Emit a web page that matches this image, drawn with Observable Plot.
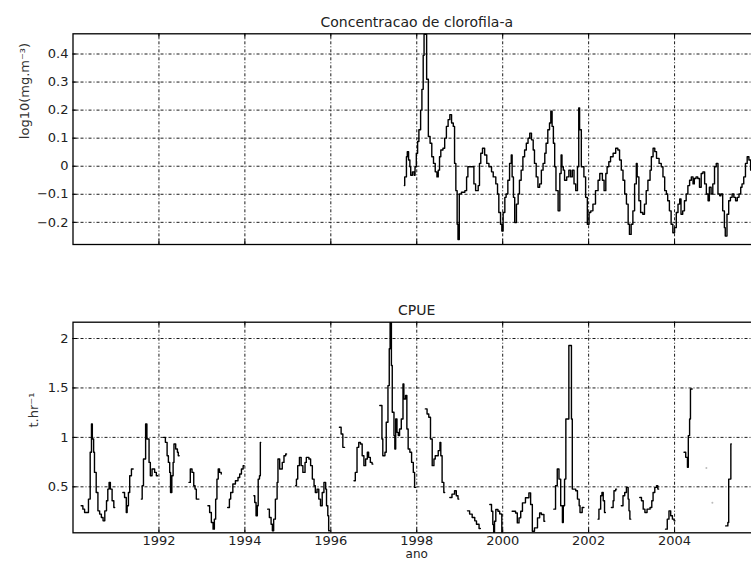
<!DOCTYPE html>
<html><head><meta charset="utf-8">
<script src="https://cdn.jsdelivr.net/npm/d3@7"></script>
<script src="https://cdn.jsdelivr.net/npm/@observablehq/plot@0.6"></script>
<style>
html,body{margin:0;padding:0;background:#fff;overflow:hidden;}
#wrap{position:relative;width:751px;height:565px;overflow:hidden;background:#fff;}
#wrap svg{position:absolute;left:0;overflow:hidden;}
</style></head><body><div id="wrap"></div>
<script>
// ---------- data ----------
const xTicks = [1992, 1994, 1996, 1998, 2000, 2002, 2004];
const chlTicks = [-0.2, -0.1, 0, 0.1, 0.2, 0.3, 0.4];
const cpueTicks = [0.5, 1, 1.5, 2];

const chlTitle = "Concentracao de clorofila-a";
const chlLabel = "log10(mg.m\u207B\u00B3)";
const cpueTitle = "CPUE";
const cpueLabel = "t.hr\u207B\u00B9";
const xLabel = "ano";

const chlYear = [1997.71,1997.72,1997.76,1997.78,1997.81,1997.84,1997.86,1997.90,1997.94,1997.96,1997.99,1998.02,1998.05,1998.09,1998.12,1998.15,1998.17,1998.21,1998.23,1998.27,1998.31,1998.35,1998.39,1998.43,1998.47,1998.50,1998.53,1998.56,1998.61,1998.65,1998.69,1998.73,1998.77,1998.81,1998.85,1998.88,1998.91,1998.94,1998.96,1998.99,1999.04,1999.12,1999.16,1999.19,1999.30,1999.33,1999.37,1999.43,1999.46,1999.49,1999.53,1999.58,1999.63,1999.68,1999.74,1999.78,1999.84,1999.88,1999.91,1999.95,1999.98,2000.01,2000.05,2000.08,2000.12,2000.16,2000.20,2000.22,2000.25,2000.28,2000.32,2000.36,2000.39,2000.43,2000.47,2000.51,2000.55,2000.59,2000.63,2000.67,2000.71,2000.74,2000.78,2000.82,2000.86,2000.90,2000.94,2000.98,2001.01,2001.05,2001.09,2001.12,2001.15,2001.18,2001.21,2001.24,2001.29,2001.33,2001.36,2001.38,2001.41,2001.44,2001.49,2001.54,2001.58,2001.62,2001.66,2001.70,2001.74,2001.77,2001.79,2001.83,2001.89,2001.93,2001.97,2002.01,2002.05,2002.10,2002.16,2002.22,2002.26,2002.32,2002.36,2002.40,2002.43,2002.47,2002.51,2002.57,2002.63,2002.68,2002.72,2002.76,2002.80,2002.84,2002.88,2002.92,2002.95,2002.99,2003.03,2003.07,2003.11,2003.13,2003.17,2003.21,2003.26,2003.30,2003.34,2003.38,2003.43,2003.46,2003.50,2003.54,2003.58,2003.64,2003.69,2003.73,2003.77,2003.81,2003.84,2003.88,2003.92,2003.96,2004.00,2004.04,2004.08,2004.12,2004.15,2004.19,2004.23,2004.27,2004.31,2004.35,2004.39,2004.43,2004.46,2004.50,2004.54,2004.58,2004.62,2004.66,2004.70,2004.74,2004.78,2004.81,2004.85,2004.89,2004.93,2004.97,2005.01,2005.05,2005.08,2005.12,2005.16,2005.18,2005.22,2005.26,2005.30,2005.34,2005.38,2005.42,2005.46,2005.50,2005.54,2005.57,2005.61,2005.65,2005.69,2005.73,2005.77,2005.81,2005.85];
const chlValue = [-0.069,-0.038,0.034,0.052,0.022,-0.002,-0.032,-0.020,-0.032,-0.002,0.046,0.088,0.130,0.200,0.274,0.395,0.470,0.470,0.310,0.106,0.082,0.034,0.010,-0.020,-0.038,-0.014,0.034,0.058,0.064,0.100,0.142,0.166,0.184,0.154,0.142,0.010,-0.087,-0.207,-0.261,-0.099,-0.093,-0.087,-0.038,-0.002,-0.002,-0.063,-0.087,-0.069,0.010,0.046,0.064,0.040,0.010,-0.002,-0.020,-0.038,-0.063,-0.099,-0.165,-0.207,-0.231,-0.165,-0.111,-0.099,-0.050,0.010,0.040,-0.038,-0.111,-0.201,-0.135,-0.099,-0.050,-0.014,0.034,0.058,0.082,0.100,0.118,0.094,0.058,0.010,-0.038,-0.075,-0.063,-0.014,0.010,0.046,0.082,0.130,0.154,0.196,0.142,0.082,-0.002,-0.087,-0.159,-0.026,0.040,-0.002,-0.014,-0.050,-0.038,-0.014,-0.038,-0.014,-0.063,-0.087,-0.002,0.208,0.130,-0.002,-0.038,-0.111,-0.207,-0.165,-0.159,-0.135,-0.087,-0.050,-0.026,-0.050,-0.087,-0.026,-0.002,0.016,0.034,0.046,0.064,0.058,0.022,-0.014,-0.050,-0.099,-0.135,-0.207,-0.243,-0.207,-0.159,-0.063,0.010,-0.038,-0.123,-0.165,-0.171,-0.135,-0.087,-0.050,-0.014,0.034,0.064,0.052,0.028,0.010,-0.002,-0.038,-0.087,-0.099,-0.123,-0.159,-0.207,-0.237,-0.219,-0.165,-0.135,-0.117,-0.171,-0.159,-0.123,-0.099,-0.069,-0.050,-0.038,-0.063,-0.044,-0.038,-0.044,-0.075,-0.026,-0.020,-0.063,-0.099,-0.123,-0.075,-0.099,-0.063,-0.002,0.010,-0.099,-0.105,-0.099,-0.159,-0.219,-0.249,-0.171,-0.123,-0.111,-0.099,-0.111,-0.123,-0.111,-0.099,-0.075,-0.063,-0.038,0.010,0.034,0.022,-0.014,-0.026,-0.030];

// CPUE: NaN marks a gap in the record
const cpueYear = [
1990.19,1990.23,1990.27,1990.36,1990.40,1990.43,1990.45,1990.48,1990.50,1990.54,1990.58,1990.62,1990.66,1990.70,1990.74,1990.78,1990.81,1990.84,1990.87,1990.91,1990.95,1990.97,1990.98,
1991.16,1991.20,1991.24,1991.26,1991.29,1991.32,1991.36,1991.40,1991.41,
1991.59,1991.61,1991.64,1991.69,1991.72,1991.77,1991.80,1991.84,1991.90,1991.94,1991.97,1991.98,
1992.11,1992.15,1992.19,1992.22,1992.25,1992.27,1992.30,1992.33,1992.35,1992.39,1992.43,1992.45,1992.47,1992.48,
1992.70,1992.73,1992.77,1992.81,1992.84,1992.87,1992.93,1992.94,
1993.14,1993.18,1993.22,1993.26,1993.29,1993.32,1993.35,1993.38,1993.41,1993.45,1993.46,
1993.60,1993.64,1993.67,1993.72,1993.78,1993.84,1993.88,1993.92,1993.96,1993.98,1993.99,
1994.21,1994.23,1994.26,1994.29,1994.31,1994.34,1994.36,1994.37,1994.38,
1994.53,1994.57,1994.61,1994.64,1994.67,1994.71,1994.75,1994.77,1994.81,1994.85,1994.87,1994.91,1994.95,1994.97,1994.98,
1995.18,1995.20,1995.23,1995.27,1995.31,1995.35,1995.40,1995.43,1995.49,1995.53,1995.57,1995.61,1995.64,1995.68,1995.72,1995.76,1995.80,1995.84,1995.88,1995.90,1995.93,1995.95,1995.97,1995.98,
1996.20,1996.24,1996.28,1996.32,1996.33,
1996.54,1996.57,1996.61,1996.65,1996.69,1996.73,1996.77,1996.81,1996.85,1996.88,1996.92,1996.96,1996.98,1996.99,
1997.14,1997.19,1997.21,1997.26,1997.29,1997.33,1997.36,1997.38,1997.41,1997.43,1997.47,1997.49,1997.51,1997.54,1997.57,1997.60,1997.64,1997.68,1997.70,1997.74,1997.77,1997.80,1997.84,1997.88,1997.92,1997.95,1997.97,1997.98,
1998.20,1998.24,1998.28,1998.32,1998.36,1998.40,1998.43,1998.50,1998.54,1998.56,1998.59,1998.63,1998.65,1998.66,
1998.77,1998.82,1998.88,1998.92,1998.96,1998.98,1998.99,
1999.18,1999.23,1999.29,1999.35,1999.39,1999.45,1999.48,1999.49,
1999.70,1999.74,1999.77,1999.79,1999.81,1999.84,1999.89,1999.93,1999.97,1999.98,1999.99,2000.00,
2000.22,2000.30,2000.34,2000.38,2000.42,2000.46,2000.53,2000.61,2000.65,2000.69,2000.74,2000.81,2000.86,2000.90,2000.96,2000.98,2000.99,
2001.19,2001.23,2001.27,2001.31,2001.35,2001.39,2001.41,2001.44,2001.47,2001.52,2001.54,2001.58,2001.60,2001.62,2001.70,2001.74,2001.78,2001.80,2001.85,2001.89,2001.90,
2002.22,2002.24,2002.28,2002.31,2002.34,2002.37,2002.39,2002.40,
2002.53,2002.57,2002.59,2002.63,2002.65,2002.66,
2002.76,2002.80,2002.84,2002.88,2002.92,2002.94,2002.96,2002.98,2002.99,
2003.19,2003.23,2003.27,2003.31,2003.36,2003.43,2003.47,2003.50,2003.54,2003.58,2003.61,2003.63,2003.64,
2003.79,2003.83,2003.87,2003.91,2003.95,2003.99,2004.01,2004.02,
2004.22,2004.26,2004.30,2004.32,2004.35,2004.37,2004.41,2004.42,
2005.19,2005.24,2005.26,2005.29,2005.31,2005.32];
const cpueValue = [
0.308,0.274,0.240,0.376,0.849,1.136,0.984,0.849,0.646,0.443,0.257,0.224,0.190,0.156,0.257,0.359,0.477,0.545,0.477,0.359,0.291,0.291,NaN,
0.443,0.392,0.240,0.308,0.443,0.612,0.680,0.680,NaN,
0.376,0.511,0.781,1.136,0.984,0.747,0.612,0.680,0.646,0.612,0.612,NaN,
1.000,0.950,0.815,0.747,0.646,0.443,0.612,0.747,0.933,0.882,0.849,0.815,0.815,NaN,
0.545,0.680,0.646,0.511,0.477,0.376,0.376,NaN,
0.308,0.240,0.139,0.072,0.173,0.376,0.578,0.680,0.646,0.630,NaN,
0.291,0.376,0.443,0.528,0.561,0.595,0.629,0.680,0.714,0.714,NaN,
0.409,0.342,0.207,0.308,0.578,0.612,0.950,0.950,NaN,
0.274,0.190,0.122,0.055,0.173,0.376,0.545,0.781,0.680,0.680,0.747,0.815,0.832,0.832,NaN,
0.511,0.578,0.714,0.798,0.714,0.646,0.747,0.798,0.781,0.714,0.578,0.511,0.443,0.477,0.376,0.308,0.443,0.545,0.477,0.308,0.207,0.055,0.055,NaN,
1.102,1.034,0.899,0.899,NaN,
0.561,0.646,0.899,0.950,0.933,0.815,0.714,0.781,0.849,0.798,0.747,0.730,0.730,NaN,
1.322,0.984,0.815,0.849,1.153,1.524,1.896,2.160,1.727,1.254,1.018,0.882,1.186,1.051,1.018,1.085,1.186,1.541,1.389,1.423,1.085,0.882,0.849,0.747,0.646,0.494,0.494,NaN,
1.288,1.237,1.203,0.984,0.714,0.781,0.815,0.866,0.950,0.815,0.545,0.443,0.443,NaN,
0.392,0.426,0.460,0.409,0.376,0.376,NaN,
0.257,0.224,0.190,0.156,0.122,0.078,0.078,NaN,
0.321,0.253,0.118,0.040,0.152,0.270,0.253,0.226,0.220,0.040,0.040,NaN,
0.253,0.236,0.135,0.186,0.253,0.338,0.389,0.439,0.321,0.051,0.085,0.186,0.236,0.220,0.152,0.152,NaN,
0.274,0.511,0.680,0.578,0.308,0.139,0.308,0.578,1.186,1.186,1.930,1.930,1.186,0.477,0.460,0.376,0.308,0.240,0.291,0.291,NaN,
0.173,0.274,0.409,0.443,0.359,0.240,0.240,NaN,
0.291,0.359,0.460,0.477,0.477,NaN,
0.308,0.409,0.443,0.494,0.376,0.257,0.173,0.173,NaN,
0.392,0.359,0.274,0.240,0.274,0.291,0.359,0.443,0.494,0.511,0.477,0.477,NaN,
0.072,0.173,0.257,0.207,0.173,0.156,0.156,NaN,
0.849,0.798,0.697,1.018,1.186,1.490,1.490,NaN,
0.105,0.139,0.578,0.578,0.933,0.933];

const strayYear = [2004.74, 2004.88];
const strayValue = [0.69, 0.34];

// ---------- layout ----------
const W = 751;
const ML = 72.5, MR = -9;       // plot area runs past the right edge (clipped like the original)
const FW = W - ML - MR;
const xDomain = [1990, 2006];
const font = "'DejaVu Sans', sans-serif";
const grid = {stroke: "black", strokeOpacity: 1, strokeWidth: 0.9, strokeDasharray: "3,2,1,2"};
const fmt = d => d < 0 ? "\u2212" + Math.abs(d) : String(d);

function panel({height, marginTop, marginBottom, yDomain, yTicks, title, ylabel, ylabelDx, data, stray, showX}) {
  const FH = height - marginTop - marginBottom;
  const marks = [
    Plot.ruleX(xTicks, {x: d => d, ...grid}),
    Plot.ruleY(yTicks, {y: d => d, ...grid}),
    Plot.tickX(xTicks, {x: d => d, insetTop: FH - 5, stroke: "black"}),
    Plot.tickX(xTicks, {x: d => d, insetBottom: FH - 5, stroke: "black"}),
    Plot.tickY(yTicks, {y: d => d, insetRight: FW - 5, stroke: "black"}),
    Plot.line(data, {x: "year", y: "value", curve: "step-after", stroke: "black", strokeWidth: 1.4}),
    Plot.frame({stroke: "black", strokeWidth: 1.3}),
    Plot.axisY(yTicks, {tickSize: 0, tickPadding: 4.5, tickFormat: fmt, fontSize: 13, fill: "#222", label: null}),
    Plot.text([title], {frameAnchor: "top", dy: -17, fontSize: 14, fill: "#222"}),
    Plot.text([ylabel], {frameAnchor: "left", dx: ylabelDx, rotate: -90, fontSize: 13, fill: "#333"})
  ];
  if (stray) marks.push(Plot.dot(stray, {x: "year", y: "value", r: 1, fill: "#bbb", stroke: null}));
  if (showX) {
    marks.push(Plot.axisX(xTicks, {anchor: "bottom", tickSize: 0, tickPadding: 3, tickFormat: d => String(d), fontSize: 13, fill: "#222", label: null}));
    marks.push(Plot.text([xLabel], {frameAnchor: "bottom", dy: 25, fontSize: 12, fill: "#222"}));
  }
  return Plot.plot({
    width: W, height, marginLeft: ML, marginRight: MR, marginTop, marginBottom,
    style: {fontFamily: font, fontSize: "13px", background: "transparent", overflow: "hidden"},
    x: {domain: xDomain, axis: showX ? undefined : null},
    y: {domain: yDomain},
    marks
  });
}

const chlRows = chlYear.map((year, i) => ({year, value: chlValue[i]}));
const cpueRows = cpueYear.map((year, i) => ({year, value: cpueValue[i]}));
const strayRows = strayYear.map((year, i) => ({year, value: strayValue[i]}));

const topPanel = panel({height: 270, marginTop: 33.3, marginBottom: 26, yDomain: [-0.279, 0.472], yTicks: chlTicks,
  title: chlTitle, ylabel: chlLabel, ylabelDx: -48, data: chlRows, showX: false});
const bottomPanel = panel({height: 275, marginTop: 31.7, marginBottom: 32.7, yDomain: [0.035, 2.165], yTicks: cpueTicks,
  title: cpueTitle, ylabel: cpueLabel, ylabelDx: -39, data: cpueRows, stray: strayRows, showX: true});
topPanel.style.top = "0px";
bottomPanel.style.top = "290px";
const wrap = document.getElementById("wrap");
wrap.appendChild(topPanel);
wrap.appendChild(bottomPanel);
</script></body></html>
